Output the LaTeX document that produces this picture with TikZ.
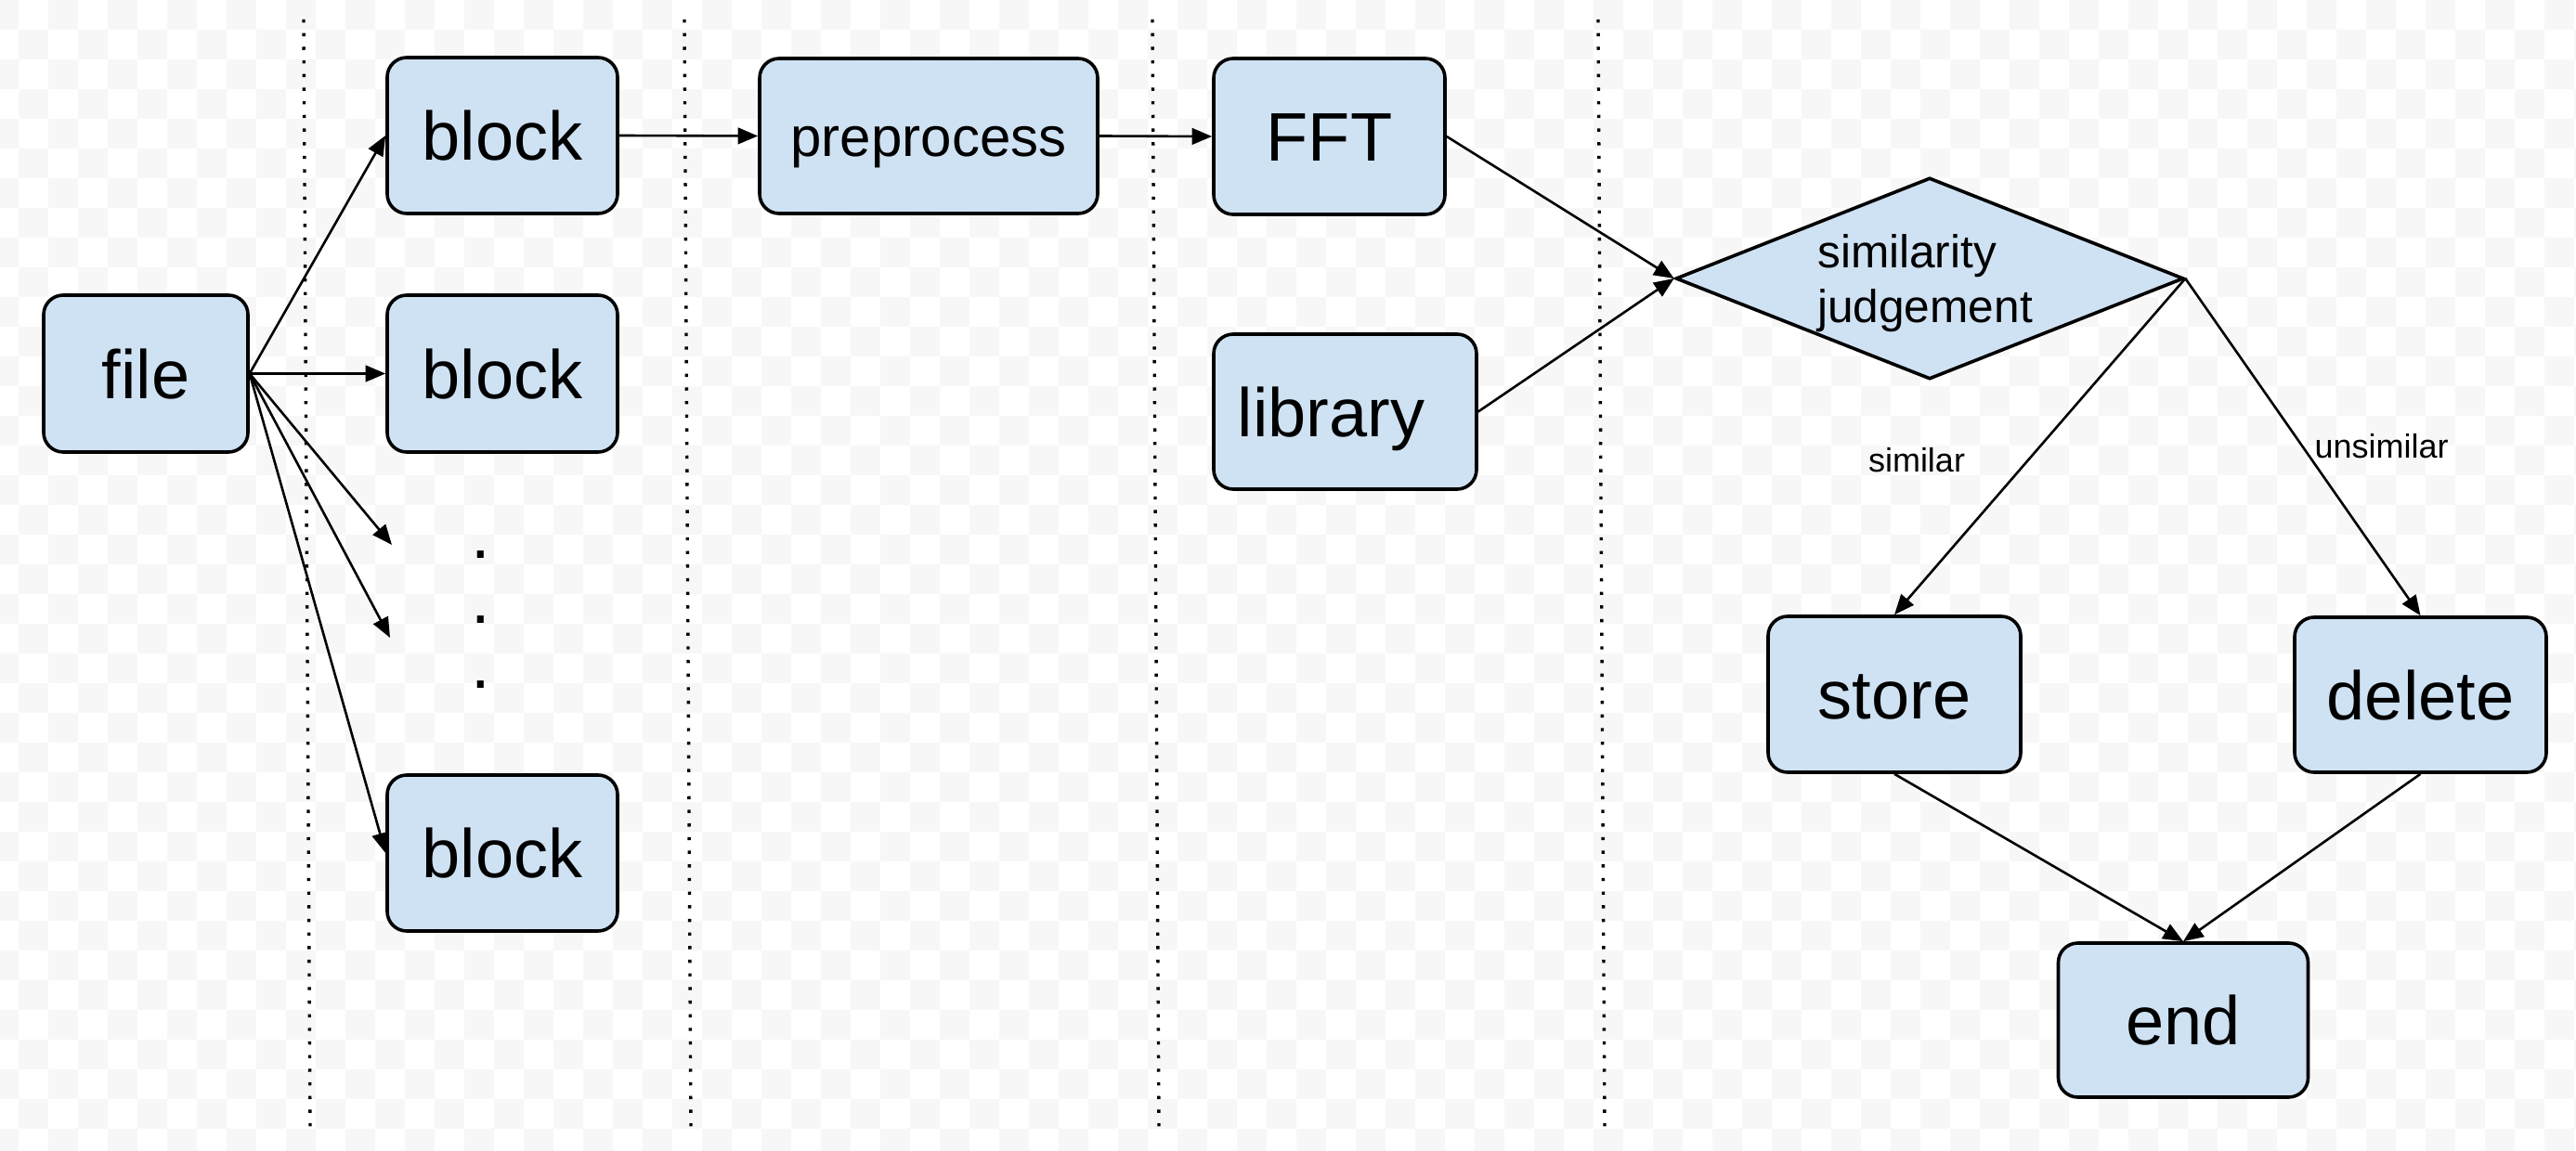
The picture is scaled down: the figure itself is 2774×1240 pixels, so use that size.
\documentclass[tikz,border=0pt]{standalone}
\usepackage{fontspec}
\setmainfont{Liberation Sans}
\usetikzlibrary{arrows.meta,shapes.geometric}
\definecolor{boxfill}{RGB}{207,226,243}
\definecolor{checkgray}{RGB}{247,247,247}
\tikzset{
  procbox/.style={draw=black, line width=0.9pt, fill=boxfill, rounded corners=5.25pt,
    inner sep=0pt, font=\fontsize{18.5pt}{22pt}\selectfont, text height=13.3pt, text depth=0pt},
  smallbox/.style={procbox, font=\fontsize{15pt}{18pt}\selectfont, text height=10.8pt, text depth=0pt},
  decision/.style={draw=black, line width=0.9pt, fill=boxfill, diamond, aspect=2.52, inner sep=0pt},
  decisiontext/.style={inner sep=0pt, align=left, font=\fontsize{12.4pt}{14.6pt}\selectfont},
  arr/.style={-{Triangle[length=5.4pt,width=4.4pt]}, line width=0.65pt},
  sepline/.style={line width=0.85pt, dash pattern=on 0.85pt off 2.82pt},
  lbl/.style={font=\fontsize{9pt}{11pt}\selectfont, inner sep=0pt, anchor=base},
  dotmark/.style={font=\fontsize{18.5pt}{22pt}\selectfont, inner sep=0pt}
}
\begin{document}
\begin{tikzpicture}[x=0.25pt,y=-0.25pt]
\useasboundingbox (0,0) rectangle (2774,1240);
\fill[white] (0,0) rectangle (2774,1240);
% checkerboard background
\foreach \r in {0,...,38}{
  \pgfmathtruncatemacro{\off}{-12+32*mod(\r,2)}
  \foreach \k in {0,...,43}{
    \fill[checkgray] ({\off+64*\k},{32*\r}) rectangle ++(32,32);
  }
}
% dotted separators
\draw[sepline] (327,21) -- (334,1218);
\draw[sepline] (737,21) -- (744,1218);
\draw[sepline] (1241,21) -- (1248,1218);
\draw[sepline] (1721,21) -- (1728,1218);

% nodes
\node[procbox, minimum width=55pt, minimum height=42.25pt] (file) at (157,402.5) {file};
\node[procbox, minimum width=62pt, minimum height=42pt] (block1) at (541,146) {block};
\node[procbox, minimum width=62pt, minimum height=42.25pt] (block2) at (541,402.5) {block};
\node[procbox, minimum width=62pt, minimum height=42pt] (block3) at (541,919) {block};
\node[smallbox, minimum width=91pt, minimum height=41.75pt] (prep) at (1000,146.5) {preprocess};
\node[procbox, minimum width=62.25pt, minimum height=42pt] (fft) at (1431.5,147) {FFT};
\node[procbox, minimum width=70.75pt, minimum height=41.75pt] (lib) at (1448.5,443.5) {library\kern7.5pt};
\node[decision, minimum width=136.75pt, minimum height=54.25pt] (judge) at (2078,300) {};
\node[decisiontext] (judgetext) at (2073,305) {similarity\\judgement};
\node[procbox, minimum width=68pt, minimum height=42pt] (store) at (2040,748) {store};
\node[procbox, minimum width=67.75pt, minimum height=41.75pt] (delete) at (2606.5,748.5) {delete};
\node[procbox, minimum width=67.25pt, minimum height=41.5pt] (end) at (2351,1099) {end};

\node[dotmark] (dot1) at (517.6,597.7) {.};
\node[dotmark] (dot2) at (517.6,667.7) {.};
\node[dotmark] (dot3) at (517.6,737.7) {.};

\node[lbl] (simlbl) at (2064,509) {similar};
\node[lbl] (unsimlbl) at (2564.7,494) {unsimilar};

\coordinate (free1) at (422,587);
\coordinate (free2) at (420,687);

% connectors
\draw[arr] (file.east) -- (block1.west);
\draw[arr] (file.east) -- (block2.west);
\draw[arr] (file.east) -- (free1);
\draw[arr] (file.east) -- (free2);
\draw[arr] (file.east) -- (block3.west);
\draw[arr] (block1.east) -- (prep.west);
\draw[arr] (prep.east) -- (fft.west);
\draw[arr] (fft.east) -- (judge.west);
\draw[arr] (lib.east) -- (judge.west);
\draw[arr] (judge.east) -- (store.north);
\draw[arr] (judge.east) -- (delete.north);
\draw[arr] (store.south) -- (end.north);
\draw[arr] (delete.south) -- (end.north);
\end{tikzpicture}
\end{document}
